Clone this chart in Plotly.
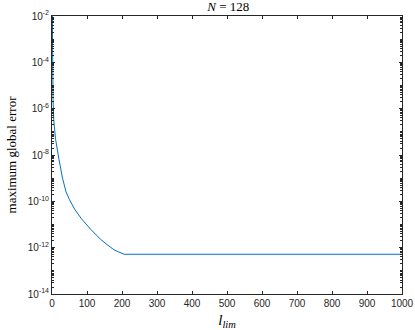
import plotly.graph_objects as go

# l_lim values and the maximum global error
l_lim = [1, 2, 3, 5, 10, 20, 30, 40, 50, 65, 84, 110, 140, 160, 177,
         190, 206, 1000]
max_err = [1.2e-2, 2.5e-5, 2.5e-6, 3.3e-7, 5.0e-8, 6.3e-9, 1.0e-9,
           2.6e-10, 1.17e-10, 4.5e-11, 1.78e-11, 6.3e-12, 2.2e-12,
           1.26e-12, 8.1e-13, 6.6e-13, 5.2e-13, 5.2e-13]

x_ticks = list(range(0, 1001, 100))
y_tickvals = [1e-14, 1e-12, 1e-10, 1e-8, 1e-6, 1e-4, 1e-2]
y_ticktext = ["10<sup>-14</sup>", "10<sup>-12</sup>", "10<sup>-10</sup>",
              "10<sup>-8</sup>", "10<sup>-6</sup>", "10<sup>-4</sup>",
              "10<sup>-2</sup>"]

serif = "Liberation Serif, DejaVu Serif, serif"
sans = "Liberation Sans, Arial, sans-serif"

fig = go.Figure()
fig.add_trace(go.Scatter(
    x=l_lim, y=max_err, mode="lines",
    line=dict(color="#0072BD", width=1),
    showlegend=False,
))

fig.update_layout(
    width=415, height=330,
    margin=dict(l=52, r=13, t=16, b=36),
    paper_bgcolor="white", plot_bgcolor="white",
    title=dict(text="<i>N</i> = 128", x=0.55, xanchor="center",
               y=0.993, yanchor="top",
               font=dict(family=serif, size=13, color="black")),
    xaxis=dict(
        range=[0, 1000], tickvals=x_ticks, ticks="inside", ticklen=3,
        tickcolor="#262626", showgrid=False, zeroline=False, automargin=False,
        showline=True, linecolor="#262626", linewidth=1, mirror="ticks",
        tickfont=dict(family=sans, size=10, color="#262626"),
        title=dict(text="<i>l</i><sub><i>lim</i></sub>",
                   font=dict(family=serif, size=15, color="black")),
    ),
    yaxis=dict(
        type="log", range=[-14, -2], tickvals=y_tickvals, ticktext=y_ticktext,
        ticks="inside", ticklen=3, tickcolor="#262626", automargin=False,
        minor=dict(ticks="inside", ticklen=2, tickcolor="#262626",
                   dtick="D1", showgrid=False),
        showgrid=False, zeroline=False,
        showline=True, linecolor="#262626", linewidth=1, mirror="ticks",
        tickfont=dict(family=sans, size=10, color="#262626"),
        title=dict(text="maximum global error", standoff=8,
                   font=dict(family=serif, size=13, color="black")),
    ),
)

# the page's default body margin would shift the figure by 8 px
fig.write_html("out.html", config={"displayModeBar": False},
               post_script="document.body.style.margin = '0';")
